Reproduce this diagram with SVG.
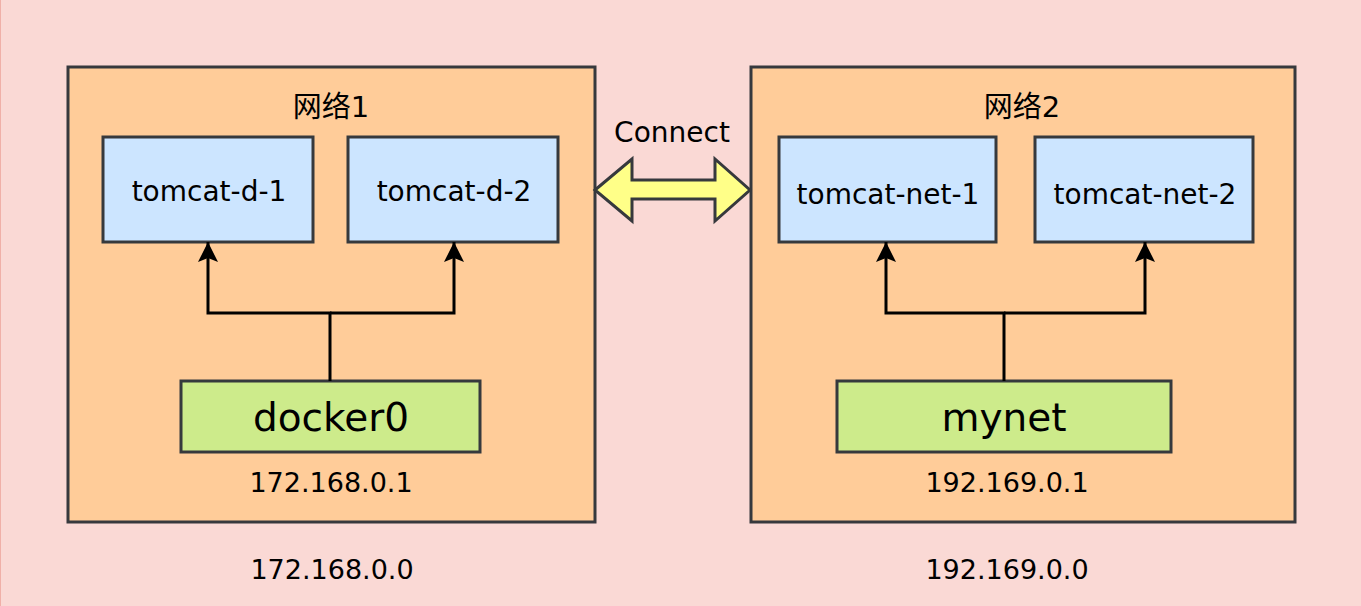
<svg xmlns="http://www.w3.org/2000/svg" width="1361" height="606" viewBox="0 0 1361 606">
<defs>
<style>
.net{fill:#ffcc99;stroke:#36393d;stroke-width:3}
.c{fill:#cce5ff;stroke:#36393d;stroke-width:3}
.b{fill:#cdeb8b;stroke:#36393d;stroke-width:3}
text{font-family:"DejaVu Sans","Noto Sans CJK SC",sans-serif;fill:#000;text-anchor:middle}
.t{font-size:28px}
.big{font-size:39px}
.ip{font-size:27px}
.lbl{font-size:28px}
.cn{font-size:29px}
.edge{fill:none;stroke:#000;stroke-width:3}
</style>
<marker id="ah" markerWidth="22" markerHeight="22" viewBox="0 0 22 22" refX="21" refY="11" orient="auto" markerUnits="userSpaceOnUse">
<path d="M21 11 L1 1 L5 11 L1 21 Z" fill="#000"/>
</marker>
</defs>
<rect x="0" y="0" width="1361" height="606" fill="#fad9d5"/>
<line x1="0.5" y1="0" x2="0.5" y2="606" stroke="#f0b0a8" stroke-width="1"/>
<g id="net1">
<rect class="net" x="68" y="67" width="527" height="455"/>
<text class="cn" x="331" y="117">网络1</text>
</g>
<g id="net2">
<rect class="net" x="751" y="67" width="544" height="455"/>
<text class="cn" x="1022" y="117">网络2</text>
</g>
<g id="tomcat-d-1">
<rect class="c" x="103" y="137" width="210" height="105"/>
<text class="t" x="209" y="201">tomcat-d-1</text>
</g>
<g id="tomcat-d-2">
<rect class="c" x="348" y="137" width="210" height="105"/>
<text class="t" x="454" y="201">tomcat-d-2</text>
</g>
<g id="tomcat-net-1">
<rect class="c" x="779" y="137" width="217" height="105"/>
<text class="t" x="888" y="204">tomcat-net-1</text>
</g>
<g id="tomcat-net-2">
<rect class="c" x="1035" y="137" width="218" height="105"/>
<text class="t" x="1145" y="204">tomcat-net-2</text>
</g>
<g id="docker0">
<rect class="b" x="181" y="381" width="299" height="71"/>
<text class="big" x="331" y="431">docker0</text>
</g>
<g id="mynet">
<rect class="b" x="837" y="381" width="334" height="71"/>
<text class="big" x="1004" y="431">mynet</text>
</g>
<text class="ip" x="331" y="492">172.168.0.1</text>
<text class="ip" x="1007" y="492">192.169.0.1</text>
<text class="ip" x="332" y="579">172.168.0.0</text>
<text class="ip" x="1007" y="579">192.169.0.0</text>
<text class="lbl" x="672" y="142">Connect</text>
<g id="connectors">
<path class="edge" d="M330 381 V313 H208 V242" marker-end="url(#ah)"/>
<path class="edge" d="M330 313 H454 V242" marker-end="url(#ah)"/>
<path class="edge" d="M1004 381 V313 H886 V242" marker-end="url(#ah)"/>
<path class="edge" d="M1004 313 H1145 V242" marker-end="url(#ah)"/>
<path d="M595 190 L632 159 L632 180 L715 180 L715 159 L750 190 L715 221 L715 199 L632 199 L632 221 Z" fill="#ffff88" stroke="#36393d" stroke-width="3" stroke-linejoin="miter"/>
</g>
</svg>
